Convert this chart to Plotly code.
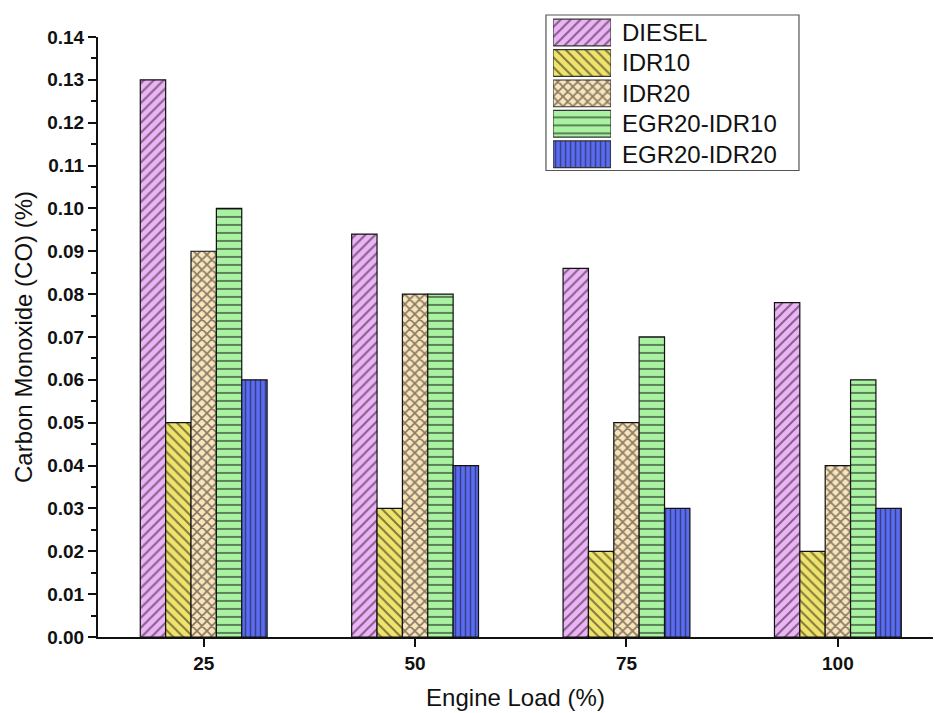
import plotly.graph_objects as go

loads = ["25", "50", "75", "100"]
series_names = ["DIESEL", "IDR10", "IDR20", "EGR20-IDR10", "EGR20-IDR20"]
diesel = [0.130, 0.094, 0.086, 0.078]
idr10 = [0.050, 0.030, 0.020, 0.020]
idr20 = [0.090, 0.080, 0.050, 0.040]
egr20_idr10 = [0.100, 0.080, 0.070, 0.060]
egr20_idr20 = [0.060, 0.040, 0.030, 0.030]
y_ticks = [0.00, 0.01, 0.02, 0.03, 0.04, 0.05, 0.06, 0.07, 0.08, 0.09, 0.10, 0.11, 0.12, 0.13, 0.14]

values = [diesel, idr10, idr20, egr20_idr10, egr20_idr20]
colors = ["#EDB2F7", "#EFE36C", "#FBE4BA", "#A8F2A2", "#5A6CF2"]
shapes_p = ["/", "\\", "x", "-", "|"]
psizes = [7, 7, 7, 8, 5]
psolid = [0.28, 0.28, 0.42, 0.25, 0.3]

fig = go.Figure()
for name, vals, col, shp, ps, so in zip(series_names, values, colors, shapes_p, psizes, psolid):
    fig.add_trace(go.Bar(
        x=loads, y=vals, name=name, showlegend=False,
        marker=dict(color=col, line=dict(color="#111111", width=1.2),
                    pattern=dict(shape=shp, fgcolor="#111111", size=ps, solidity=so)),
    ))

# custom legend swatches (inset axes)
for i, (name, col, shp, ps, so) in enumerate(zip(series_names, colors, shapes_p, psizes, psolid)):
    fig.add_trace(go.Bar(
        x=[1], y=[i], orientation="h", width=0.88, offset=-0.44,
        xaxis="x2", yaxis="y2", showlegend=False, hoverinfo="skip",
        marker=dict(color=col, line=dict(color="#333333", width=1.2),
                    pattern=dict(shape=shp, fgcolor="#111111", size=ps, solidity=so)),
    ))
    fig.add_annotation(x=0.6251, xref="paper", y=i, yref="y2", text=name,
                       showarrow=False, xanchor="left", yanchor="middle",
                       font=dict(family="Arial, Liberation Sans", size=24, color="#111111"))

fig.add_shape(type="rect", xref="paper", yref="paper",
              x0=0.5365, x1=0.8395, y0=0.7464, y1=0.9952,
              line=dict(color="#555555", width=1.2), fillcolor="rgba(0,0,0,0)", layer="below")

font_base = "Arial, Liberation Sans"
fig.update_layout(
    width=935, height=713,
    margin=dict(l=98, r=2, t=10, b=76),
    paper_bgcolor="white", plot_bgcolor="white",
    barmode="group", bargap=0.4, bargroupgap=0,
    font=dict(family=font_base, color="#111111"),
    xaxis=dict(type="category", range=[-0.5, 3.45], showgrid=False, zeroline=False,
               showline=True, linecolor="#111111", linewidth=2,
               ticks="outside", ticklen=8, tickwidth=2, tickcolor="#111111",
               tickfont=dict(family=font_base, size=19, color="#111111", weight="bold"),
               title=dict(text="Engine Load (%)", font=dict(size=24, family=font_base), standoff=16)),
    yaxis=dict(domain=[0, 0.9601], range=[0, 0.14], tickvals=y_ticks, tickformat=".2f",
               showgrid=False, zeroline=False,
               showline=True, linecolor="#111111", linewidth=2,
               ticks="outside", ticklen=8, tickwidth=2, tickcolor="#111111",
               minor=dict(dtick=0.005, ticks="outside", ticklen=5, tickwidth=2, tickcolor="#111111"),
               tickfont=dict(family=font_base, size=19, color="#111111", weight="bold"),
               title=dict(text="Carbon Monoxide (CO) (%)", font=dict(size=24, family=font_base), standoff=8)),
    xaxis2=dict(domain=[0.545, 0.6144], range=[0, 1], anchor="y2", visible=False, fixedrange=True),
    yaxis2=dict(domain=[0.7482, 0.9914], range=[4.5, -0.5], anchor="x2", visible=False, fixedrange=True),
)

fig.write_html("out.html")
